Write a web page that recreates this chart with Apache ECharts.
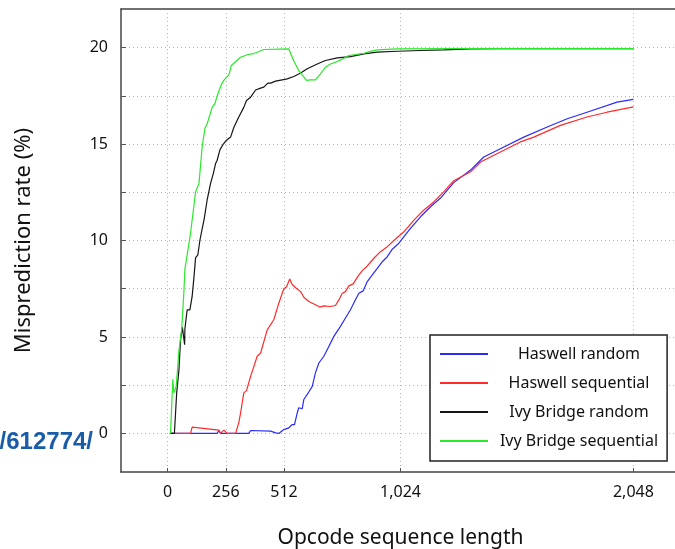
<!DOCTYPE html>
<html><head><meta charset="utf-8">
<script src="https://cdn.jsdelivr.net/npm/echarts@6/dist/echarts.min.js"></script>
<style>html,body{margin:0;padding:0;background:#fff;overflow:hidden}#c{width:675px;height:549px}</style>
</head><body><div id="c"></div>
<script>
const seriesNames = ['Haswell random', 'Haswell sequential', 'Ivy Bridge random', 'Ivy Bridge sequential'];
const xTickValues = [0, 256, 512, 1024, 2048];
const yLabelValues = [0, 5, 10, 15, 20];
const yTickValues = [0, 2.5, 5, 7.5, 10, 12.5, 15, 17.5, 20];

const haswellRandomX = [13,218,226,233,357,365,453,475,489,511,533,548,558,570,577,592,599,614,636,650,665,687,709,731,760,782,804,826,841,860,878,900,922,944,966,988,1017,1039,1068,1112,1156,1200,1258,1332,1390,1463,1566,1669,1757,1844,1976,2048];
const haswellRandomY = [0,0,0.15,0,0,0.15,0.12,0.03,0,0.2,0.29,0.46,0.46,1.07,1.33,1.28,1.76,2.02,2.44,3.14,3.65,4.0,4.51,5.03,5.55,5.98,6.41,6.93,7.27,7.39,7.87,8.22,8.56,8.9,9.16,9.55,9.86,10.2,10.63,11.23,11.75,12.2,13.0,13.65,14.33,14.76,15.36,15.88,16.31,16.65,17.17,17.32];

const haswellSeqX = [13,101,108,226,233,248,262,299,313,321,335,347,365,394,409,438,467,489,511,523,537,548,563,585,599,621,650,669,687,716,738,753,768,782,797,816,836,856,878,907,936,966,1002,1039,1083,1127,1170,1214,1258,1332,1376,1463,1551,1610,1727,1844,1932,2048];
const haswellSeqY = [0,0,0.33,0.17,0,0.17,0,0,0.55,1.07,2.1,2.22,2.96,4.0,4.17,5.37,5.89,6.75,7.5,7.6,8.0,7.72,7.55,7.35,7.06,6.84,6.67,6.55,6.61,6.58,6.63,6.92,7.27,7.35,7.65,7.75,8.13,8.44,8.68,9.08,9.42,9.68,10.08,10.45,11.06,11.58,12.0,12.52,13.1,13.56,14.07,14.59,15.11,15.36,15.97,16.4,16.65,16.93];

const ivyRandomX = [13,30,40,50,57,65,75,76,86,98,108,116,123,133,142,152,160,174,189,201,211,218,230,245,259,277,292,313,335,347,365,387,409,423,441,453,475,504,526,555,585,614,658,694,746,804,863,922,1009,1112,1214,1332,1450,2048];
const ivyRandomY = [0,0,2.1,3.3,4.86,5.5,4.6,5.4,6.4,6.4,7.1,8.1,9.1,9.25,10.0,10.6,11.06,12.1,12.96,13.47,13.99,14.16,14.7,15.0,15.2,15.36,15.88,16.4,16.9,17.26,17.43,17.8,17.9,17.95,18.16,18.16,18.26,18.33,18.38,18.5,18.68,18.9,19.15,19.33,19.47,19.53,19.67,19.76,19.81,19.85,19.88,19.93,19.95,19.95];

const ivySeqX = [13,23,28,38,50,62,72,76,84,100,123,138,152,164,174,196,208,218,237,247,270,280,321,353,372,394,423,533,541,555,577,611,628,650,658,672,694,716,738,768,797,826,863,892,922,1009,1300,2048];
const ivySeqY = [0,2.8,2.1,2.45,4.3,5.4,7.4,8.5,9.1,10.3,12.5,12.96,14.85,15.8,16.05,16.9,17.1,17.5,18.1,18.3,18.6,19.07,19.5,19.64,19.67,19.76,19.9,19.93,19.93,19.3,18.8,18.3,18.33,18.33,18.3,18.64,18.98,19.15,19.24,19.4,19.59,19.64,19.7,19.8,19.88,19.93,19.95,19.95];

const colors = ['#2a2aff', '#ff2a2a', '#151515', '#2ae82a'];
const zip = (xs, ys) => xs.map((x, i) => [x, ys[i]]);
const seriesData = [zip(haswellRandomX, haswellRandomY), zip(haswellSeqX, haswellSeqY), zip(ivyRandomX, ivyRandomY), zip(ivySeqX, ivySeqY)];

const font = 'Noto Sans';
const frameLine = {show: true, onZero: false, lineStyle: {color: '#444', width: 1.5}};
const chart = echarts.init(document.getElementById('c'), null, {renderer: 'canvas'});
chart.setOption({
  animation: false,
  backgroundColor: '#fff',
  grid: {left: 121, top: 9, width: 559, height: 463, containLabel: false, outerBoundsMode: 'none', show: false},
  xAxis: [{
    type: 'value', min: -204.8, max: 2252.8, position: 'bottom',
    name: 'Opcode sequence length', nameLocation: 'middle', nameGap: 56,
    nameTextStyle: {fontFamily: font, fontSize: 21, color: '#111'},
    axisLine: frameLine,
    axisTick: {show: true, inside: true, length: 4, customValues: xTickValues, lineStyle: {color: '#555'}},
    axisLabel: {customValues: xTickValues, margin: 12, fontFamily: font, fontSize: 16, color: '#111', formatter: v => v.toLocaleString('en-US')},
    splitLine: {show: true, lineStyle: {color: '#b5b5b5', type: [1, 3], width: 1}}
  }, {
    type: 'value', min: -204.8, max: 2252.8, position: 'top',
    axisLine: frameLine, axisTick: {show: false}, axisLabel: {show: false}, splitLine: {show: false}
  }],
  yAxis: {
    type: 'value', min: -2, max: 22, position: 'left',
    name: 'Misprediction rate (%)', nameLocation: 'middle', nameGap: 86,
    nameTextStyle: {fontFamily: font, fontSize: 22, color: '#111'},
    axisLine: frameLine,
    axisTick: {show: true, inside: true, length: 5, customValues: yTickValues, lineStyle: {color: '#555'}},
    axisLabel: {customValues: yLabelValues, margin: 13, fontFamily: font, fontSize: 16, color: '#111'},
    splitLine: {show: true, lineStyle: {color: '#b5b5b5', type: [1, 3], width: 1}}
  },
  legend: {
    orient: 'vertical', left: 430, top: 335,
    padding: [11, 9, 12, 9], itemWidth: 48, itemHeight: 14, itemGap: 13,
    backgroundColor: '#fff', borderColor: '#222', borderWidth: 1.5, borderRadius: 0,
    itemStyle: {opacity: 0},
    data: seriesNames,
    formatter: n => '{t|' + n + '}',
    textStyle: {rich: {t: {width: 172, align: 'center', fontFamily: font, fontSize: 16, color: '#111'}}}
  },
  series: seriesNames.map((n, i) => ({
    name: n, type: 'line', data: seriesData[i], symbol: 'none', showSymbol: false,
    lineStyle: {color: colors[i], width: 1.2}, itemStyle: {color: colors[i]}, z: 2 + i
  })),
  graphic: [{
    type: 'text', x: 93, y: 442,
    style: {text: '/612774/', align: 'right', verticalAlign: 'middle', font: 'bold 24px "Liberation Sans", Arial, sans-serif', fill: '#1a5ca8'}
  }]
});
</script></body></html>
